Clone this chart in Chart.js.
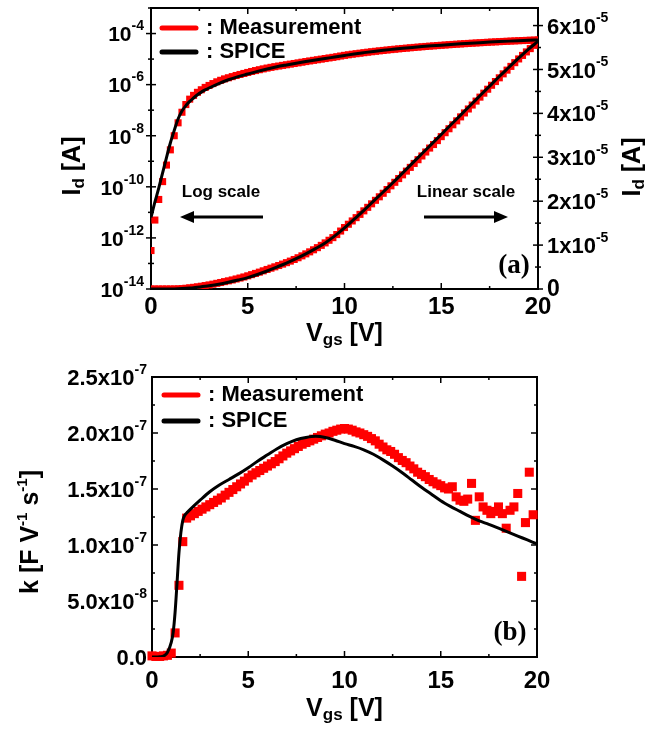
<!DOCTYPE html>
<html>
<head>
<meta charset="utf-8">
<script src="https://cdn.jsdelivr.net/npm/chart.js@4.4.1/dist/chart.umd.min.js"></script>
<style>
    body { margin: 0; background: #fff; }
    .panel { position: absolute; left: 0; }
    #panelA { top: 0; }
    #panelB { top: 350px; }
</style>
</head>
<body>
<canvas id="panelA" class="panel" width="663" height="350"></canvas>
<canvas id="panelB" class="panel" width="663" height="380"></canvas>
<script>
// ---- data ----
// gate voltage of the measured points [V]
const vgs = [0, 0.2, 0.4, 0.6, 0.8, 1.0, 1.2, 1.4, 1.6, 1.8, 2.0, 2.2, 2.4, 2.6, 2.8, 3.0, 3.2, 3.4, 3.6, 3.8,
    4.0, 4.2, 4.4, 4.6, 4.8, 5.0, 5.2, 5.4, 5.6, 5.8, 6.0, 6.2, 6.4, 6.6, 6.8, 7.0, 7.2, 7.4, 7.6, 7.8,
    8.0, 8.2, 8.4, 8.6, 8.8, 9.0, 9.2, 9.4, 9.6, 9.8, 10.0, 10.2, 10.4, 10.6, 10.8, 11.0, 11.2, 11.4, 11.6, 11.8,
    12.0, 12.2, 12.4, 12.6, 12.8, 13.0, 13.2, 13.4, 13.6, 13.8, 14.0, 14.2, 14.4, 14.6, 14.8, 15.0, 15.2, 15.4, 15.6, 15.8,
    16.0, 16.2, 16.4, 16.6, 16.8, 17.0, 17.2, 17.4, 17.6, 17.8, 18.0, 18.2, 18.4, 18.6, 18.8, 19.0, 19.2, 19.4, 19.6, 19.8, 20.0];

// measured drain current [A]
const idMeas = [3.2e-13, 5.0e-12, 3.2e-11, 1.6e-10, 7.1e-10, 2.8e-9, 1.0e-8, 3.2e-8, 8.3e-8, 1.66e-7,
    2.7e-7, 3.8e-7, 5.0e-7, 6.3e-7, 7.8e-7, 9.3e-7, 1.10e-6, 1.29e-6, 1.48e-6, 1.68e-6,
    1.86e-6, 2.06e-6, 2.28e-6, 2.50e-6, 2.74e-6, 3.00e-6, 3.27e-6, 3.55e-6, 3.84e-6, 4.14e-6,
    4.45e-6, 4.75e-6, 5.05e-6, 5.35e-6, 5.67e-6, 6.00e-6, 6.35e-6, 6.72e-6, 7.12e-6, 7.55e-6,
    8.00e-6, 8.46e-6, 8.93e-6, 9.42e-6, 9.94e-6, 1.05e-5, 1.11e-5, 1.17e-5, 1.24e-5, 1.32e-5,
    1.40e-5, 1.475e-5, 1.55e-5, 1.625e-5, 1.70e-5, 1.78e-5, 1.86e-5, 1.94e-5, 2.02e-5, 2.10e-5,
    2.18e-5, 2.265e-5, 2.35e-5, 2.43e-5, 2.515e-5, 2.60e-5, 2.685e-5, 2.77e-5, 2.86e-5, 2.945e-5,
    3.03e-5, 3.12e-5, 3.21e-5, 3.29e-5, 3.38e-5, 3.47e-5, 3.56e-5, 3.65e-5, 3.74e-5, 3.83e-5,
    3.92e-5, 4.01e-5, 4.10e-5, 4.19e-5, 4.28e-5, 4.37e-5, 4.46e-5, 4.55e-5, 4.64e-5, 4.725e-5,
    4.81e-5, 4.90e-5, 4.985e-5, 5.07e-5, 5.155e-5, 5.24e-5, 5.32e-5, 5.40e-5, 5.475e-5, 5.55e-5, 5.63e-5];

// SPICE drain current
const spiceIdVgs = [0, 0.2, 0.4, 0.6, 0.8, 1.0, 1.2, 1.4, 1.6, 1.8, 2.0, 2.2, 2.4, 2.6, 2.8, 3.0,
    3.5, 4.0, 4.5, 5.0, 5.5, 6.0, 6.5, 7.0, 7.5, 8.0, 8.5, 9.0, 9.5, 10.0, 10.5, 11.0, 11.5, 12.0,
    12.5, 13.0, 13.5, 14.0, 14.5, 15.0, 15.5, 16.0, 16.5, 17.0, 17.5, 18.0, 18.5, 19.0, 19.5, 20.0];
const spiceId = [6.3e-12, 2.5e-11, 8.9e-11, 3.5e-10, 1.4e-9, 5.2e-9, 1.6e-8, 4.5e-8, 9.2e-8, 1.5e-7,
    2.2e-7, 3.0e-7, 4.0e-7, 5.1e-7, 6.2e-7, 7.4e-7,
    1.1e-6, 1.55e-6, 2.05e-6, 2.6e-6, 3.3e-6, 4.1e-6, 5.0e-6, 5.9e-6, 6.9e-6, 8.0e-6, 9.2e-6, 1.05e-5,
    1.21e-5, 1.39e-5, 1.59e-5, 1.79e-5, 2.00e-5, 2.21e-5, 2.42e-5, 2.64e-5, 2.86e-5, 3.08e-5,
    3.30e-5, 3.52e-5, 3.74e-5, 3.96e-5, 4.18e-5, 4.40e-5, 4.62e-5, 4.84e-5, 5.05e-5, 5.26e-5, 5.46e-5, 5.64e-5];

// measured k [x1e-7 F V^-1 s^-1], one per vgs point up to 19.8 V
const kMeas = [0.01, 0.005, 0.005, 0.01, 0.015, 0.035, 0.215, 0.64, 1.03, 1.24,
    1.26, 1.28, 1.30, 1.32, 1.34, 1.36, 1.38, 1.40, 1.42, 1.445,
    1.47, 1.495, 1.52, 1.545, 1.57, 1.60, 1.625, 1.645, 1.665, 1.685,
    1.705, 1.725, 1.745, 1.77, 1.795, 1.82, 1.84, 1.86, 1.88, 1.90,
    1.915, 1.93, 1.945, 1.96, 1.975, 1.99, 2.00, 2.015, 2.025, 2.035,
    2.04, 2.035, 2.025, 2.01, 2.00, 1.985, 1.97, 1.95, 1.93, 1.90,
    1.875, 1.85, 1.835, 1.81, 1.78, 1.755, 1.735, 1.705, 1.68, 1.65,
    1.63, 1.61, 1.585, 1.565, 1.545, 1.53, 1.51, 1.50, 1.52, 1.43,
    1.40, 1.39, 1.41, 1.55, 1.22, 1.43, 1.34, 1.31, 1.28, 1.30,
    1.34, 1.28, 1.15, 1.31, 1.34, 1.46, 0.72, 1.20, 1.65, 1.27];

// SPICE k [x1e-7]
const spiceKVgs = [0, 0.2, 0.4, 0.6, 0.8, 1.0, 1.1, 1.2, 1.3, 1.4, 1.5, 1.6, 1.7, 1.8, 2.0, 2.5, 3.0,
    3.5, 4.0, 4.5, 5.0, 5.5, 6.0, 6.5, 7.0, 7.5, 8.0, 8.5, 9.0, 9.5, 10.0, 10.5, 11.0, 11.5, 12.0,
    12.5, 13.0, 13.5, 14.0, 14.5, 15.0, 15.5, 16.0, 16.5, 17.0, 17.5, 18.0, 18.5, 19.0, 19.5, 20.0];
const spiceK = [0, 0, 0.002, 0.008, 0.04, 0.13, 0.22, 0.40, 0.66, 0.93, 1.11, 1.22, 1.265, 1.285, 1.32, 1.40, 1.475,
    1.535, 1.585, 1.635, 1.69, 1.75, 1.805, 1.86, 1.905, 1.94, 1.96, 1.97, 1.96, 1.935, 1.905, 1.88, 1.85, 1.81, 1.76,
    1.705, 1.645, 1.58, 1.515, 1.455, 1.395, 1.345, 1.30, 1.255, 1.215, 1.185, 1.15, 1.115, 1.08, 1.045, 1.01];

// axis ticks
const xTicks = [0, 5, 10, 15, 20];
const xMinorTicks = [2.5, 7.5, 12.5, 17.5];
const logTickExp = [-14, -12, -10, -8, -6, -4];
const logMinorExp = [-13, -11, -9, -7, -5, -3];
const linTicks = [0, 1, 2, 3, 4, 5, 6];             // x1e-5 A
const linMinorTicks = [0.5, 1.5, 2.5, 3.5, 4.5, 5.5];
const kTicks = [0, 0.5, 1.0, 1.5, 2.0, 2.5];        // x1e-7
const kTickBase = ['0.0', '5.0x10', '1.0x10', '1.5x10', '2.0x10', '2.5x10'];
const kTickExp = ['', '-8', '-7', '-7', '-7', '-7'];
const kMinorTicks = [0.25, 0.75, 1.25, 1.75, 2.25];

const RED = '#ff0000';
const SANS = '"Liberation Sans", Arial, sans-serif';
const SERIF = '"Liberation Serif", "Times New Roman", serif';

// ---- drawing helpers ----
function drawRich(ctx, parts, x, y, align) {
    let w = 0;
    parts.forEach(p => { ctx.font = p[1]; w += ctx.measureText(p[0]).width; });
    let cx = align === 'right' ? x - w : align === 'center' ? x - w / 2 : x;
    ctx.textAlign = 'left';
    ctx.textBaseline = 'middle';
    parts.forEach(p => {
        ctx.font = p[1];
        ctx.fillText(p[0], cx, y + (p[2] || 0));
        cx += ctx.measureText(p[0]).width;
    });
}

function drawRotated(ctx, parts, x, y) {
    ctx.save();
    ctx.translate(x, y);
    ctx.rotate(-Math.PI / 2);
    drawRich(ctx, parts, 0, 0, 'center');
    ctx.restore();
}

function tick(ctx, x1, y1, x2, y2) {
    ctx.beginPath();
    ctx.moveTo(x1, y1);
    ctx.lineTo(x2, y2);
    ctx.stroke();
}

function frame(ctx, area) {
    ctx.save();
    ctx.strokeStyle = '#000';
    ctx.lineWidth = 2;
    ctx.strokeRect(area.left, area.top, area.right - area.left, area.bottom - area.top);
    ctx.restore();
}

function legend(ctx, x, y1, y2) {
    ctx.save();
    ctx.lineWidth = 5;
    ctx.lineCap = 'round';
    ctx.strokeStyle = RED;
    tick(ctx, x, y1, x + 34, y1);
    ctx.strokeStyle = '#000';
    tick(ctx, x, y2, x + 34, y2);
    ctx.fillStyle = '#000';
    drawRich(ctx, [[': Measurement', 'bold 22px ' + SANS]], x + 44, y1, 'left');
    drawRich(ctx, [[': SPICE', 'bold 22px ' + SANS]], x + 44, y2, 'left');
    ctx.restore();
}

function arrow(ctx, x1, x2, y) {
    const dir = Math.sign(x2 - x1);
    ctx.save();
    ctx.strokeStyle = '#000';
    ctx.fillStyle = '#000';
    ctx.lineWidth = 3;
    tick(ctx, x1, y, x2 - dir * 10, y);
    ctx.beginPath();
    ctx.moveTo(x2, y);
    ctx.lineTo(x2 - dir * 14, y - 6);
    ctx.lineTo(x2 - dir * 14, y + 6);
    ctx.closePath();
    ctx.fill();
    ctx.restore();
}

// ---- panel (a): Id-Vgs, log and linear ----
const panelAPlugin = {
    id: 'panelADecor',
    beforeDatasetsDraw(chart) {
        const { ctx, chartArea: a, scales } = chart;
        frame(ctx, a);
        ctx.save();
        ctx.strokeStyle = '#000';
        ctx.lineWidth = 1.5;
        xTicks.concat(xMinorTicks).forEach(v => {
            const px = scales.x.getPixelForValue(v);
            const len = xTicks.includes(v) ? 6 : 3;
            tick(ctx, px, a.bottom, px, a.bottom - len);
            tick(ctx, px, a.top, px, a.top + len);
        });
        logTickExp.concat(logMinorExp).forEach(e => {
            const py = scales.yLog.getPixelForValue(Math.pow(10, e));
            const len = logTickExp.includes(e) ? 5 : 3;
            tick(ctx, a.left - len, py, a.left + len, py);
        });
        linTicks.concat(linMinorTicks).forEach(v => {
            const py = scales.yLin.getPixelForValue(v * 1e-5);
            const len = linTicks.includes(v) ? 5 : 3;
            tick(ctx, a.right - len, py, a.right + len, py);
        });
        ctx.restore();
    },
    afterDraw(chart) {
        const { ctx, chartArea: a, scales } = chart;
        ctx.save();
        ctx.fillStyle = '#000';
        const big = 'bold 21px ' + SANS, sup = 'bold 14px ' + SANS;
        xTicks.forEach(v => {
            drawRich(ctx, [[String(v), 'bold 24px ' + SANS]], scales.x.getPixelForValue(v), a.bottom + 18, 'center');
        });
        logTickExp.forEach(e => {
            const py = scales.yLog.getPixelForValue(Math.pow(10, e));
            drawRich(ctx, [['10', big, 2], [String(e), sup, -7]], a.left - 7, py, 'right');
        });
        linTicks.forEach(v => {
            const py = scales.yLin.getPixelForValue(v * 1e-5);
            if (v === 0) drawRich(ctx, [['0', 'bold 23px ' + SANS]], a.right + 9, py + 1, 'left');
            else drawRich(ctx, [[v + 'x10', 'bold 22px ' + SANS, 2], ['-5', sup, -7]], a.right + 9, py, 'left');
        });
        const tBig = 'bold 25px ' + SANS, tSub = 'bold 17px ' + SANS;
        drawRotated(ctx, [['I', tBig], ['d', tSub, 6], [' [A]', tBig]], 73, 166);
        drawRotated(ctx, [['I', tBig], ['d', tSub, 6], [' [A]', tBig]], 633, 167);
        drawRich(ctx, [['V', tBig], ['gs', tSub, 6], [' [V]', tBig]], (a.left + a.right) / 2, 334, 'center');

        legend(ctx, 162, 28, 52);
        drawRich(ctx, [['Log scale', 'bold 17px ' + SANS]], 221, 192, 'center');
        drawRich(ctx, [['Linear scale', 'bold 17px ' + SANS]], 466, 192, 'center');
        arrow(ctx, 263, 180, 217);
        arrow(ctx, 424, 508, 217);
        drawRich(ctx, [['(a)', 'bold 27px ' + SERIF]], 514, 266, 'center');
        ctx.restore();
    }
};

const measPoints = vgs.map((v, i) => ({ x: v, y: idMeas[i] }));
const spicePoints = spiceIdVgs.map((v, i) => ({ x: v, y: spiceId[i] }));

new Chart(document.getElementById('panelA'), {
    type: 'scatter',
    data: {
        datasets: [
            { label: 'SPICE log', data: spicePoints, yAxisID: 'yLog', showLine: true, borderColor: '#000',
              borderWidth: 3, pointRadius: 0, cubicInterpolationMode: 'monotone', order: 0 },
            { label: 'SPICE lin', data: spicePoints, yAxisID: 'yLin', showLine: true, borderColor: '#000',
              borderWidth: 3, pointRadius: 0, cubicInterpolationMode: 'monotone', order: 0 },
            { label: 'Measurement log', data: measPoints, yAxisID: 'yLog', pointStyle: 'rect', pointRadius: 5,
              backgroundColor: RED, borderWidth: 0, order: 1 },
            { label: 'Measurement lin', data: measPoints, yAxisID: 'yLin', pointStyle: 'rect', pointRadius: 5,
              backgroundColor: RED, borderWidth: 0, order: 1 }
        ]
    },
    options: {
        responsive: false,
        animation: false,
        devicePixelRatio: 1,
        layout: { padding: { left: 151, right: 125, top: 8, bottom: 61 } },
        plugins: { legend: { display: false }, tooltip: { enabled: false } },
        scales: {
            x: { type: 'linear', min: 0, max: 20, display: false },
            yLog: { type: 'logarithmic', position: 'left', min: 1e-14, max: 1e-3, display: false },
            yLin: { type: 'linear', position: 'right', min: 0, max: 6.4e-5, display: false }
        }
    },
    plugins: [panelAPlugin]
});

// ---- panel (b): k-Vgs ----
const panelBPlugin = {
    id: 'panelBDecor',
    beforeDatasetsDraw(chart) {
        const { ctx, chartArea: a, scales } = chart;
        frame(ctx, a);
        ctx.save();
        ctx.strokeStyle = '#000';
        ctx.lineWidth = 1.5;
        xTicks.concat(xMinorTicks).forEach(v => {
            const px = scales.x.getPixelForValue(v);
            const len = xTicks.includes(v) ? 6 : 3;
            tick(ctx, px, a.bottom, px, a.bottom - len);
            tick(ctx, px, a.top, px, a.top + len);
        });
        kTicks.concat(kMinorTicks).forEach(v => {
            const py = scales.y.getPixelForValue(v * 1e-7);
            const len = kTicks.includes(v) ? 6 : 3;
            tick(ctx, a.left, py, a.left + len, py);
            tick(ctx, a.right, py, a.right - len, py);
        });
        ctx.restore();
    },
    afterDraw(chart) {
        const { ctx, chartArea: a, scales } = chart;
        ctx.save();
        ctx.fillStyle = '#000';
        xTicks.forEach(v => {
            drawRich(ctx, [[String(v), 'bold 24px ' + SANS]], scales.x.getPixelForValue(v), a.bottom + 24, 'center');
        });
        kTicks.forEach((v, i) => {
            const py = scales.y.getPixelForValue(v * 1e-7);
            drawRich(ctx, [[kTickBase[i], 'bold 22px ' + SANS, 2], [kTickExp[i], 'bold 14px ' + SANS, -7]],
                a.left - 5, py, 'right');
        });
        const tBig = 'bold 25px ' + SANS, tSub = 'bold 17px ' + SANS, tSup = 'bold 15px ' + SANS;
        drawRotated(ctx, [['k [F V', tBig], ['-1', tSup, -8], [' s', tBig], ['-1', tSup, -8], [']', tBig]], 31, 182);
        drawRich(ctx, [['V', tBig], ['gs', tSub, 6], [' [V]', tBig]], (a.left + a.right) / 2, 359, 'center');

        legend(ctx, 164, 45, 71);
        drawRich(ctx, [['(b)', 'bold 27px ' + SERIF]], 510, 283, 'center');
        ctx.restore();
    }
};

new Chart(document.getElementById('panelB'), {
    type: 'scatter',
    data: {
        datasets: [
            { label: 'SPICE', data: spiceKVgs.map((v, i) => ({ x: v, y: spiceK[i] * 1e-7 })), showLine: true,
              borderColor: '#000', borderWidth: 3, pointRadius: 0, cubicInterpolationMode: 'monotone', order: 0 },
            { label: 'Measurement', data: kMeas.map((k, i) => ({ x: vgs[i], y: k * 1e-7 })), pointStyle: 'rect',
              pointRadius: 6.4, backgroundColor: RED, borderWidth: 0, order: 1, clip: 5 }
        ]
    },
    options: {
        responsive: false,
        animation: false,
        devicePixelRatio: 1,
        layout: { padding: { left: 152, right: 126, top: 27, bottom: 73 } },
        plugins: { legend: { display: false }, tooltip: { enabled: false } },
        scales: {
            x: { type: 'linear', min: 0, max: 20, display: false },
            y: { type: 'linear', min: 0, max: 2.5e-7, display: false }
        }
    },
    plugins: [panelBPlugin]
});
</script>
</body>
</html>
